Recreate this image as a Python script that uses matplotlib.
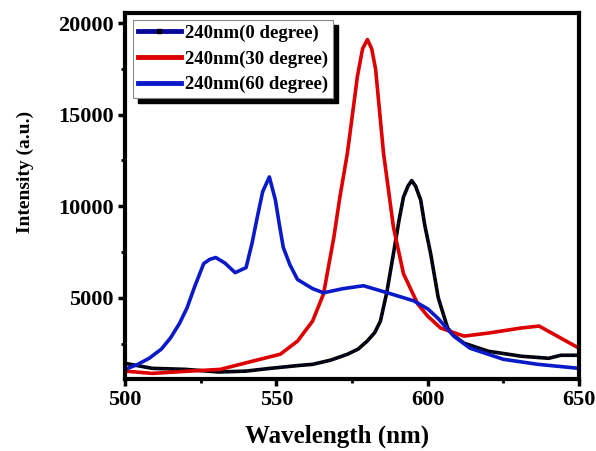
import matplotlib.pyplot as plt
from matplotlib.lines import Line2D
from matplotlib.patches import Rectangle

plt.rcParams['font.family'] = 'Liberation Serif'
plt.rcParams['font.weight'] = 'bold'

# 240nm, 0 degree
x0 = [500, 509, 520, 531, 540, 548, 557, 562, 568, 573.5, 577, 580, 582.5, 584.4, 586.5, 588.7,
      590.5, 592, 593.5, 594.7, 596, 597.7, 599, 601, 603.5, 606.6, 609, 612, 620, 631, 640, 644, 650]
y0 = [1425, 1150, 1095, 950, 1000, 1150, 1300, 1370, 1600, 1920, 2200, 2635, 3100, 3735, 5300, 7420,
      9200, 10500, 11100, 11400, 11100, 10335, 9000, 7400, 5000, 3350, 2900, 2525, 2085, 1810, 1700, 1865, 1865]

# 240nm, 30 degree
x30 = [500, 509, 520, 531.5, 542, 551.3, 557, 562, 565.6, 569, 571, 573.5, 576.8, 578.5, 580.1,
       581.5, 582.8, 585.4, 588.7, 592, 596.7, 600, 604.3, 612, 620, 630.8, 636.8, 644, 650]
y30 = [1000, 875, 985, 1095, 1535, 1920, 2635, 3735, 5220, 8300, 10500, 12920, 17100, 18600, 19100,
       18600, 17485, 12920, 8850, 6320, 4670, 4000, 3350, 2910, 3075, 3350, 3460, 2800, 2250]

# 240nm, 60 degree
x60 = [500, 504, 508, 512, 515, 518, 520.5, 523, 526, 528, 530, 533, 536.4, 540, 542, 543.7,
       545.5, 547.7, 549.7, 551, 552.3, 554.5, 557, 562, 565.6, 572, 578.8, 586.7, 595.4, 600,
       603.3, 608.6, 614, 625, 636.4, 650]
y60 = [1095, 1350, 1700, 2200, 2800, 3600, 4450, 5600, 6870, 7100, 7200, 6900, 6375, 6650, 8000, 9400,
       10800, 11600, 10335, 9000, 7750, 6800, 6000, 5500, 5275, 5500, 5660, 5275, 4835, 4400,
       3900, 2910, 2250, 1645, 1370, 1150]

labels = ['240nm(0 degree)', '240nm(30 degree)', '240nm(60 degree)']
red = '#dd0000'
blue = '#0a1ac8'
navy = '#0a0a9a'

fig = plt.figure(figsize=(5.96, 4.51), dpi=100)
ax = fig.add_axes([0.2097, 0.1597, 0.7618, 0.8115])

ax.plot(x0, y0, color='black', lw=2.6, solid_joinstyle='round')
ax.plot(x0, y0, color=blue, lw=0.8, ls=(0, (1, 4)))
ax.plot(x30, y30, color=red, lw=2.6, solid_joinstyle='round')
ax.plot(x60, y60, color=blue, lw=2.6, solid_joinstyle='round')

ax.set_xlim(500, 650)
ax.set_ylim(570, 20550)
ax.set_xticks([500, 550, 600, 650])
ax.set_xticks([525, 575, 625], minor=True)
ax.set_yticks([5000, 10000, 15000, 20000])
ax.set_yticks([2500, 7500, 12500, 17500], minor=True)
ax.tick_params(which='major', direction='out', length=5, width=2.5, labelsize=16, pad=3)
ax.tick_params(which='minor', direction='out', length=3, width=2)
for s in ax.spines.values():
    s.set_linewidth(3)

ax.set_xlabel('Wavelength (nm)', fontsize=18, fontweight='bold')
ax.set_ylabel('Intensity (a.u.)', fontsize=14, fontweight='bold')
ax.xaxis.set_label_coords(0.467, -0.125)
ax.yaxis.set_label_coords(-0.2, 0.566)

handles = [Line2D([], [], color=navy, lw=3.5, marker='s', ms=3, mfc='black', mec='black', markevery=[1]),
           Line2D([], [], color=red, lw=3.5),
           Line2D([], [], color=blue, lw=3.5)]
leg = ax.legend(handles, labels, loc='upper left', bbox_to_anchor=(0.018, 0.981), borderaxespad=0,
                fontsize=13.5, handlelength=2.3, handletextpad=0.2, labelspacing=0.45,
                borderpad=0.25, fancybox=False, framealpha=1, edgecolor='#888888')
leg.get_frame().set_linewidth(0.8)
leg.set_zorder(5)

# black drop shadow behind the legend box
fig.canvas.draw()
bb = leg.get_window_extent().transformed(fig.transFigure.inverted())
dx, dy = 5 / 596, 5 / 451
ax.add_patch(Rectangle((bb.x0 + dx, bb.y0 - dy), bb.width, bb.height,
                       transform=fig.transFigure, color='black', zorder=4, clip_on=False))

fig.savefig('out.png', dpi=100)
